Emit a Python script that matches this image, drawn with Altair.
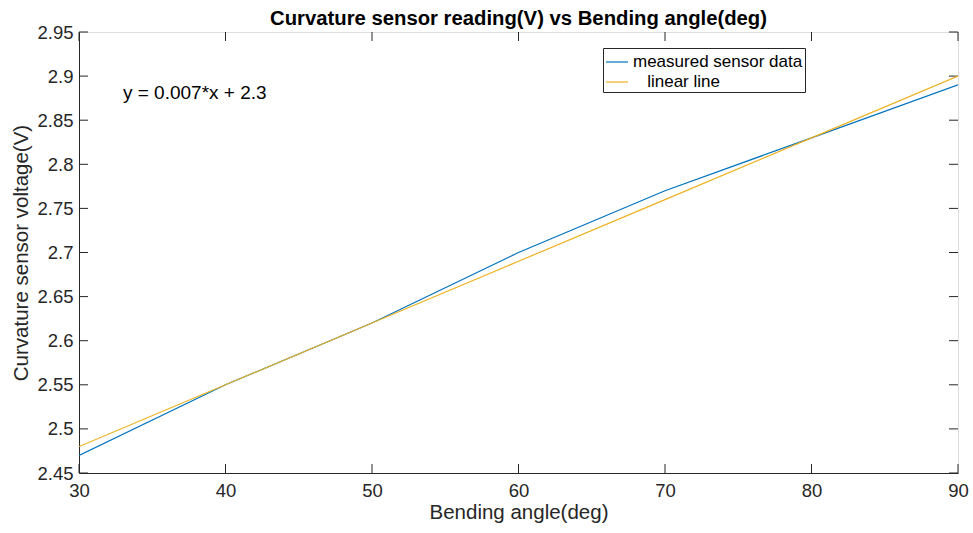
import altair as alt
import pandas as pd

angles = [30, 40, 50, 60, 70, 80, 90]
measured = [2.47, 2.55, 2.62, 2.70, 2.77, 2.83, 2.89]
linear = [2.48, 2.55, 2.62, 2.69, 2.76, 2.83, 2.90]
series_names = ["measured sensor data", "\u200b\u00a0\u00a0\u00a0linear line"]
series_colors = ["#0072BD", "#EDB120"]
x_ticks = [30, 40, 50, 60, 70, 80, 90]
y_ticks = [2.45, 2.5, 2.55, 2.6, 2.65, 2.7, 2.75, 2.8, 2.85, 2.9, 2.95]
annot_x = [33.0]
annot_y = [2.881]
annot_text = ["y = 0.007*x + 2.3"]

W, H = 879, 441
FONT = "Liberation Sans"
TC = "#262626"

rows = []
for a, m in zip(angles, measured):
    rows.append({"angle": a, "value": m, "series": series_names[0]})
for a, l in zip(angles, linear):
    rows.append({"angle": a, "value": l, "series": series_names[1]})
df = pd.DataFrame(rows)

xs = alt.Scale(domain=[30, 90], nice=False, zero=False)
ys = alt.Scale(domain=[2.45, 2.95], nice=False, zero=False)

lines = alt.Chart(df).mark_line(strokeWidth=1.2, clip=True).encode(
    x=alt.X("angle:Q", scale=xs,
            axis=alt.Axis(values=x_ticks, title="Bending angle(deg)", grid=False,
                          tickSize=0, labelPadding=8, labelFontSize=18.5, labelColor=TC,
                          labelFlush=False,
                          titleFontSize=20.5, titleFontWeight="normal", titleColor=TC,
                          titlePadding=3, domainColor=TC, labelFont=FONT, titleFont=FONT)),
    y=alt.Y("value:Q", scale=ys,
            axis=alt.Axis(values=y_ticks, format=".3~f", title="Curvature sensor voltage(V)",
                          grid=False, tickSize=0, labelPadding=6, labelFontSize=18.5,
                          labelFlush=False,
                          labelColor=TC, titleFontSize=20.5, titleFontWeight="normal",
                          titleColor=TC, titlePadding=5, domainColor=TC,
                          labelFont=FONT, titleFont=FONT)),
    color=alt.Color("series:N",
                    scale=alt.Scale(domain=series_names, range=series_colors),
                    sort=series_names,
                    legend=alt.Legend(title=None, orient="none", legendX=524, legendY=16,
                                      strokeColor=TC, fillColor="white", padding=2,
                                      symbolType="stroke", symbolSize=484,
                                      symbolStrokeWidth=1.2, labelFontSize=17,
                                      labelFont=FONT, labelColor="black", labelLimit=400,
                                      rowPadding=0, labelOffset=4, cornerRadius=0)),
)

xt = pd.DataFrame({"t": x_ticks})
yt = pd.DataFrame({"t": y_ticks})
tick_style = dict(color=TC, strokeWidth=1)
xb = alt.Chart(xt).mark_rule(**tick_style).encode(
    x=alt.X("t:Q", scale=xs), y=alt.value(H), y2=alt.value(H - 9))
xtp = alt.Chart(xt).mark_rule(**tick_style).encode(
    x=alt.X("t:Q", scale=xs), y=alt.value(0), y2=alt.value(9))
yl = alt.Chart(yt).mark_rule(**tick_style).encode(
    y=alt.Y("t:Q", scale=ys), x=alt.value(0), x2=alt.value(9))
yr = alt.Chart(yt).mark_rule(**tick_style).encode(
    y=alt.Y("t:Q", scale=ys), x=alt.value(W), x2=alt.value(W - 9))

ann = alt.Chart(pd.DataFrame({"x": annot_x, "y": annot_y, "t": annot_text})).mark_text(
    align="left", baseline="middle", fontSize=19, font=FONT, color="black"
).encode(x=alt.X("x:Q", scale=xs), y=alt.Y("y:Q", scale=ys), text="t:N")

chart = alt.layer(xb, xtp, yl, yr, lines, ann).properties(
    width=W, height=H,
    title=alt.TitleParams("Curvature sensor reading(V) vs Bending angle(deg)",
                          fontSize=20.3, font=FONT, fontWeight="bold", color="black",
                          anchor="middle", offset=-6),
    padding={"left": 79, "top": 32, "right": 15, "bottom": 60},
    autosize=alt.AutoSizeParams(type="none"),
).configure_view(stroke=TC, strokeWidth=1).configure(background="white")

chart.save("out.html", embed_options={"renderer": "svg", "actions": False})
